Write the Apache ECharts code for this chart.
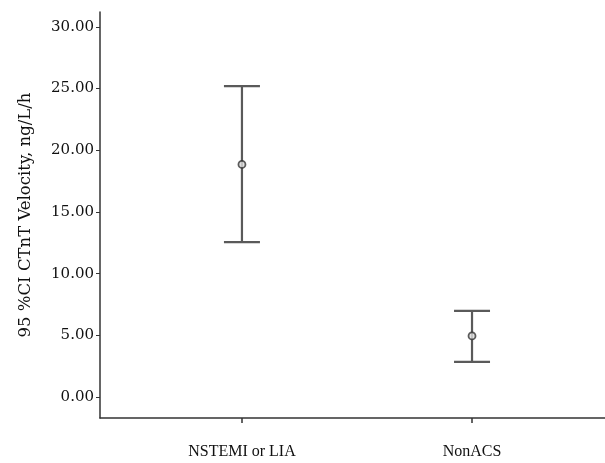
<!DOCTYPE html>
<html>
<head>
<meta charset="utf-8">
<script src="https://cdn.jsdelivr.net/npm/echarts@6/dist/echarts.min.js"></script>
<style>
  html, body { margin: 0; padding: 0; background: #fff; }
  #chart { width: 605px; height: 463px; }
</style>
</head>
<body>
<div id="chart"></div>
<script>
const categories = ['NSTEMI or LIA', 'NonACS'];
const means = [18.85, 4.95];
const lowers = [12.55, 2.85];
const uppers = [25.2, 6.98];
const yTicks = [0, 5, 10, 15, 20, 25, 30];

const chart = echarts.init(document.getElementById('chart'));
const serif = '"Liberation Serif", serif';
const wideSerif = '"DejaVu Serif", serif';
const lineColor = '#5a5a5a';

const barData = categories.map((c, i) => [i, lowers[i], uppers[i]]);
const meanData = categories.map((c, i) => [i, means[i]]);

const option = {
  backgroundColor: '#fff',
  animation: false,
  grid: { left: 100, right: 0, top: 12, height: 406 },
  xAxis: {
    type: 'value',
    min: -0.617,
    max: 1.578,
    splitLine: { show: false },
    axisLine: { onZero: false, lineStyle: { color: '#333', width: 1.5 } },
    axisTick: {
      customValues: [0, 1],
      length: 5,
      lineStyle: { color: '#333', width: 1.5 }
    },
    axisLabel: {
      customValues: [0, 1],
      formatter: v => categories[Math.round(v)],
      color: '#111',
      fontFamily: serif,
      fontSize: 16,
      margin: 26
    }
  },
  yAxis: {
    type: 'value',
    min: -1.7,
    max: 31.2,
    name: '95 %CI CTnT Velocity, ng/L/h',
    nameLocation: 'middle',
    nameGap: 66,
    nameTextStyle: { color: '#111', fontFamily: wideSerif, fontSize: 16.5 },
    splitLine: { show: false },
    axisLine: { show: true, onZero: false, lineStyle: { color: '#333', width: 1.5 } },
    axisTick: {
      show: true,
      customValues: yTicks,
      length: 4,
      lineStyle: { color: '#333', width: 1 }
    },
    axisLabel: {
      customValues: yTicks,
      formatter: v => v.toFixed(2),
      color: '#111',
      fontFamily: wideSerif,
      fontSize: 15,
      margin: 6
    }
  },
  series: [
    {
      type: 'custom',
      data: barData,
      renderItem: (params, api) => {
        const x = api.value(0);
        const lo = api.coord([x, api.value(1)]);
        const hi = api.coord([x, api.value(2)]);
        const half = 18;
        const style = { stroke: lineColor, lineWidth: 2.2 };
        return {
          type: 'group',
          children: [
            { type: 'line', shape: { x1: hi[0], y1: hi[1], x2: lo[0], y2: lo[1] }, style },
            { type: 'line', shape: { x1: hi[0] - half, y1: hi[1], x2: hi[0] + half, y2: hi[1] }, style },
            { type: 'line', shape: { x1: lo[0] - half, y1: lo[1], x2: lo[0] + half, y2: lo[1] }, style }
          ]
        };
      }
    },
    {
      type: 'scatter',
      data: meanData,
      symbol: 'circle',
      symbolSize: 7,
      itemStyle: { color: '#ddd', borderColor: '#333', borderWidth: 1.8 },
      z: 5
    }
  ]
};

chart.setOption(option);
</script>
</body>
</html>
